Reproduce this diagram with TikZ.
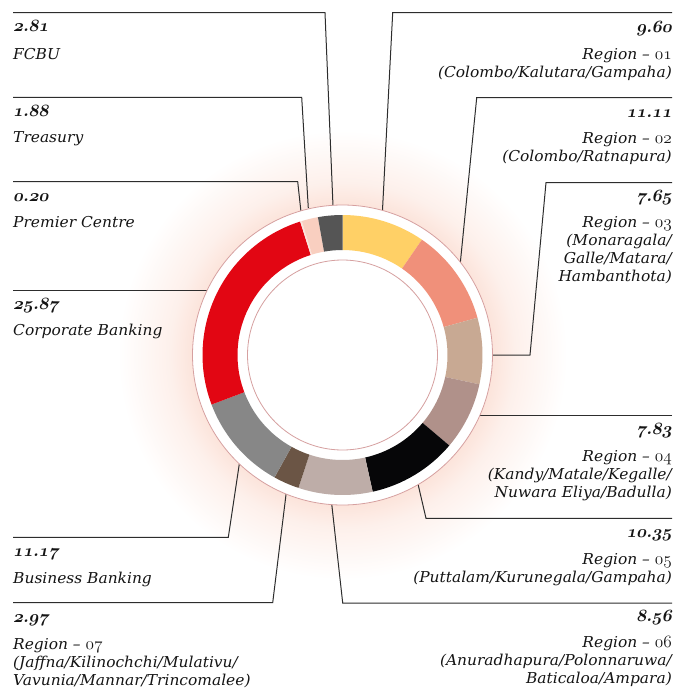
\documentclass[tikz,border=0pt]{standalone}
\usepackage{fontspec}
\setmainfont{DejaVu Serif}[FakeStretch=1.03]
\usetikzlibrary{calc}

% palette
\definecolor{halo}{RGB}{252,228,219}
\definecolor{rim}{RGB}{214,160,160}
\definecolor{leader}{RGB}{45,45,45}
\definecolor{txt}{RGB}{20,20,20}
\definecolor{cRone}{RGB}{255,208,102}
\definecolor{cRtwo}{RGB}{240,144,122}
\definecolor{cRthree}{RGB}{200,169,147}
\definecolor{cRfour}{RGB}{176,145,138}
\definecolor{cRfive}{RGB}{6,6,8}
\definecolor{cRsix}{RGB}{190,173,168}
\definecolor{cRseven}{RGB}{107,85,69}
\definecolor{cBB}{RGB}{135,135,135}
\definecolor{cCB}{RGB}{226,6,19}
\definecolor{cPC}{RGB}{251,228,220}
\definecolor{cTR}{RGB}{249,207,192}
\definecolor{cFC}{RGB}{85,85,85}

% old-style figures: value (bold) and region number (regular)
\newcommand\val[2]{{\fontsize{17.28}{18}\usefont{OML}{cmm}{b}{it}#1\char58 #2}}
\newcommand\rno[1]{{\fontsize{17.28}{18}\usefont{OML}{cmm}{m}{it}#1}}
% stacked label lines, baseline on the first line
\newcommand\stackL[1]{\begin{tabular}[t]{@{}l@{}}#1\end{tabular}}
\newcommand\stackR[1]{\begin{tabular}[t]{@{}r@{}}#1\end{tabular}}

\pgfdeclareradialshading{haloshade}{\pgfpoint{0bp}{0bp}}{%
  color(0bp)=(halo); color(13.9bp)=(halo); color(16bp)=(halo!55!white);
  color(20.8bp)=(white); color(50bp)=(white)}

\begin{document}
\begin{tikzpicture}[x=1pt,y=-1pt,
  leaderline/.style={draw=leader,line width=1pt},
  valtext/.style={inner sep=0pt,text=txt,xslant=0.2},
  lbltext/.style={inner sep=0pt,font=\itshape\fontsize{15}{18}\selectfont,text=txt},
  lefttext/.style={anchor=base west},
  righttext/.style={anchor=base east}]
\useasboundingbox (0,0) rectangle (675,691);
\coordinate (c) at (342.5,355);

% soft halo around the ring
\shade[shading=haloshade] (c) circle[radius=270];

% leader lines (left side)
\coordinate (fcA) at (13,12.7);   \coordinate (fcB) at (325,12.7);   \coordinate (fcC) at (333,206);
\coordinate (trA) at (13,97.3);   \coordinate (trB) at (301.7,97.3); \coordinate (trC) at (308.3,208);
\coordinate (pcA) at (13,181.7);  \coordinate (pcB) at (297.7,181.7);\coordinate (pcC) at (301,212);
\coordinate (cbA) at (13,290.7);  \coordinate (cbB) at (207,290.7);
\coordinate (bbA) at (13,537.3);  \coordinate (bbB) at (228.3,537.3);\coordinate (bbC) at (239.3,464);
\coordinate (r7A) at (13,602.7);  \coordinate (r7B) at (272.7,602.7);\coordinate (r7C) at (286.2,493);
% leader lines (right side)
\coordinate (r1A) at (672,12.7);  \coordinate (r1B) at (392.7,12.7); \coordinate (r1C) at (382.5,210);
\coordinate (r2A) at (672,97.7);  \coordinate (r2B) at (476.7,97.7); \coordinate (r2C) at (459.5,271);
\coordinate (r3A) at (672,182.7); \coordinate (r3B) at (546,182.7);  \coordinate (r3C) at (530,355);
\coordinate (r3D) at (490,355);
\coordinate (r4A) at (672,415);   \coordinate (r4B) at (479,415);
\coordinate (r5A) at (672,518.3); \coordinate (r5B) at (426,518.3);  \coordinate (r5C) at (418,484);
\coordinate (r6A) at (672,603);   \coordinate (r6B) at (342.7,603);  \coordinate (r6C) at (331.5,502);

\draw[leaderline] (fcA) -- (fcB) -- (fcC);
\draw[leaderline] (trA) -- (trB) -- (trC);
\draw[leaderline] (pcA) -- (pcB) -- (pcC);
\draw[leaderline] (cbA) -- (cbB);
\draw[leaderline] (bbA) -- (bbB) -- (bbC);
\draw[leaderline] (r7A) -- (r7B) -- (r7C);
\draw[leaderline] (r1A) -- (r1B) -- (r1C);
\draw[leaderline] (r2A) -- (r2B) -- (r2C);
\draw[leaderline] (r3A) -- (r3B) -- (r3C) -- (r3D);
\draw[leaderline] (r4A) -- (r4B);
\draw[leaderline] (r5A) -- (r5B) -- (r5C);
\draw[leaderline] (r6A) -- (r6B) -- (r6C);

% ring
\fill[white] (c) circle[radius=150];
\draw[rim,line width=0.8pt] (c) circle[radius=150];
\foreach \p/\q/\col in {0/9.60/cRone, 9.60/20.71/cRtwo, 20.71/28.36/cRthree,
    28.36/36.19/cRfour, 36.19/46.54/cRfive, 46.54/55.10/cRsix, 55.10/58.07/cRseven,
    58.07/69.24/cBB, 69.24/95.11/cCB, 95.11/95.31/cPC, 95.31/97.19/cTR, 97.19/100/cFC}{
  \pgfmathsetmacro\a{-90+3.6*\p}
  \pgfmathsetmacro\b{-90+3.6*\q}
  \fill[\col] ($(c)+(\a:140)$) arc[start angle=\a,end angle=\b,radius=140]
     -- ($(c)+(\b:105)$) arc[start angle=\b,end angle=\a,radius=105] -- cycle;
}
\draw[rim,line width=0.8pt] (c) circle[radius=95];

% left labels
\node[valtext,lefttext] (fcV) at (13,31) {\val{2}{81}};
\node[lbltext,lefttext] (fcL) at (13,59) {FCBU};
\node[valtext,lefttext] (trV) at (13,116) {\val{1}{88}};
\node[lbltext,lefttext] (trL) at (13,142) {Treasury};
\node[valtext,lefttext] (pcV) at (13,201) {\val{0}{20}};
\node[lbltext,lefttext] (pcL) at (13,227) {Premier Centre};
\node[valtext,lefttext] (cbV) at (13,309) {\val{25}{87}};
\node[lbltext,lefttext] (cbL) at (13,335) {Corporate Banking};
\node[valtext,lefttext] (bbV) at (13,556) {\val{11}{17}};
\node[lbltext,lefttext] (bbL) at (13,583) {Business Banking};
\node[valtext,lefttext] (r7V) at (13,622) {\val{2}{97}};
\node[lbltext,lefttext] (r7L) at (13,649) {\stackL{Region -- \rno{07}\\(Jaffna/Kilinochchi/Mulativu/\\Vavunia/Mannar/Trincomalee)}};

% right labels
\node[valtext,righttext] (r1V) at (672,32) {\val{9}{60}};
\node[lbltext,righttext] (r1L) at (672,59) {\stackR{Region -- \rno{01}\\(Colombo/Kalutara/Gampaha)}};
\node[valtext,righttext] (r2V) at (672,117) {\val{11}{11}};
\node[lbltext,righttext] (r2L) at (672,143) {\stackR{Region -- \rno{02}\\(Colombo/Ratnapura)}};
\node[valtext,righttext] (r3V) at (672,201) {\val{7}{65}};
\node[lbltext,righttext] (r3L) at (672,227) {\stackR{Region -- \rno{03}\\(Monaragala/\\Galle/Matara/\\Hambanthota)}};
\node[valtext,righttext] (r4V) at (672,434) {\val{7}{83}};
\node[lbltext,righttext] (r4L) at (672,461) {\stackR{Region -- \rno{04}\\(Kandy/Matale/Kegalle/\\Nuwara Eliya/Badulla)}};
\node[valtext,righttext] (r5V) at (672,537) {\val{10}{35}};
\node[lbltext,righttext] (r5L) at (672,564) {\stackR{Region -- \rno{05}\\(Puttalam/Kurunegala/Gampaha)}};
\node[valtext,righttext] (r6V) at (672,621) {\val{8}{56}};
\node[lbltext,righttext] (r6L) at (672,647) {\stackR{Region -- \rno{06}\\(Anuradhapura/Polonnaruwa/\\Baticaloa/Ampara)}};
\end{tikzpicture}
\end{document}
